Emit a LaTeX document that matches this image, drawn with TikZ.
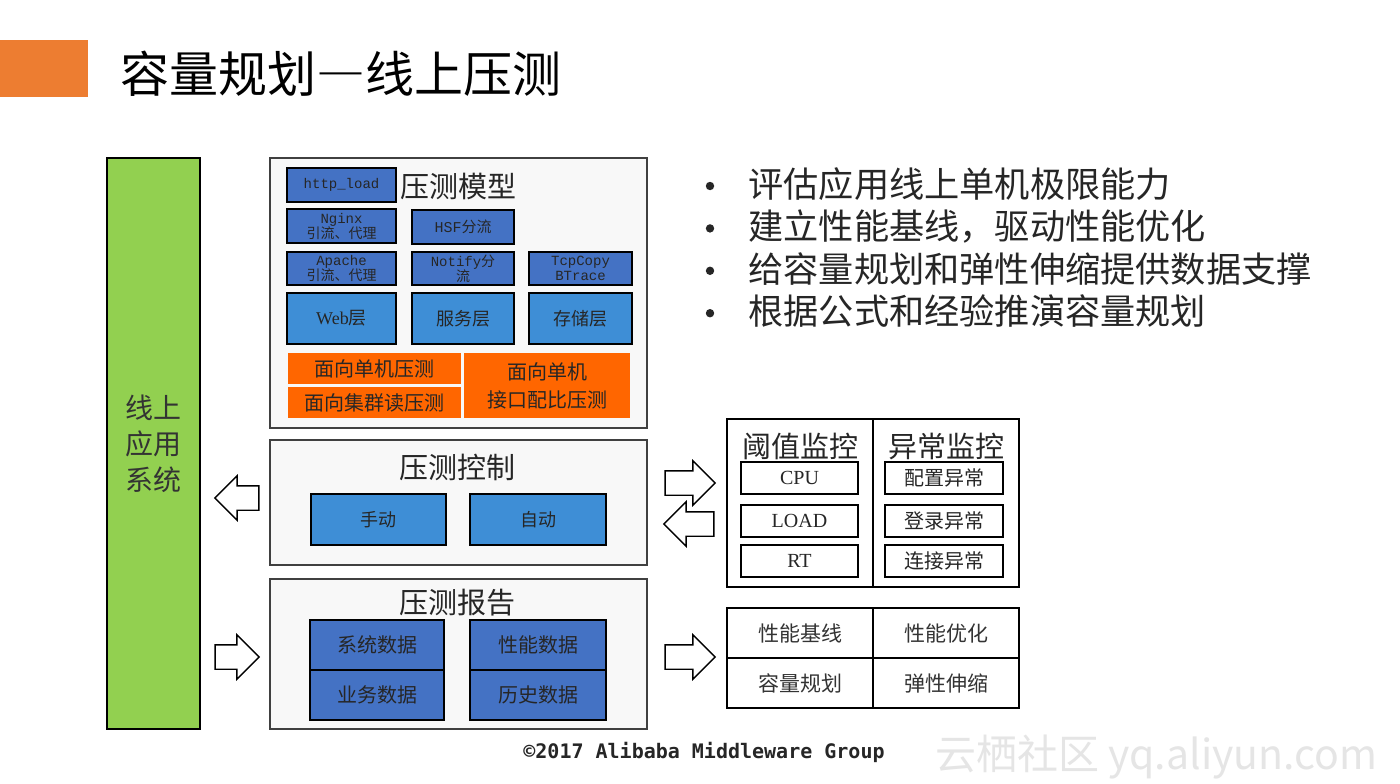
\documentclass[tikz,border=0pt]{standalone}
\usepackage{fontspec}
\setmainfont{Noto Sans CJK SC}
\newfontfamily\lserif{Liberation Serif}
\newfontfamily\lmono{Liberation Mono}
\newfontfamily\footmono{DejaVu Sans Mono}[BoldFont={DejaVu Sans Mono Bold}]
\usepackage{tikz}
\usetikzlibrary{shapes.arrows}
\definecolor{cpdark}{HTML}{4472C4}
\definecolor{cpmid}{HTML}{3E8ED6}
\definecolor{cporange}{HTML}{FF6600}
\definecolor{cptitle}{HTML}{ED7D31}
\definecolor{cpgreen}{HTML}{92D050}
\definecolor{cppanel}{HTML}{F8F8F8}
\newcommand{\fs}[2]{\fontsize{#1}{#2}\selectfont}

\begin{document}
\begin{tikzpicture}[
  x=0.5pt, y=-0.5pt,
  panel/.style={rectangle, draw=black!75, line width=0.7pt, fill=cppanel,
    inner sep=0pt},
  darkbox/.style={rectangle, draw=black, line width=1.3pt, fill=cpdark,
    align=center, inner sep=0pt, text=black!85},
  midbox/.style={rectangle, draw=black, line width=1.3pt, fill=cpmid,
    align=center, inner sep=0pt, text=black!85, font=\fs{9}{11}},
  orbox/.style={rectangle, fill=cporange, align=center, inner sep=0pt,
    font=\fs{10}{14}, text=black!85},
  wbox/.style={rectangle, draw=black, line width=1pt, fill=white,
    align=center, inner sep=0pt, font=\fs{10}{12}, text=black!85},
  cell/.style={rectangle, draw=black, line width=0.8pt, fill=white,
    minimum width=73pt, minimum height=25pt, inner sep=0pt,
    font=\fs{10.5}{12}, text=black!80},
  head/.style={font=\fs{14.5}{16}, text=black!85},
  blockarr/.style={single arrow, draw=black, line width=0.7pt, fill=white,
    inner sep=5.75pt, minimum height=22pt, single arrow head extend=5pt},
  bullet/.style={anchor=west, font=\fs{17.6}{20}, text=black!85, inner sep=0pt},
  dot/.style={circle, fill=black!85, minimum size=4.2pt, inner sep=0pt}
]
\useasboundingbox[fill=white] (0,0) rectangle (1400,783);

% title
\node[rectangle, fill=cptitle, minimum width=44pt, minimum height=28.5pt,
  inner sep=0pt] (tbar) at (44,68.5) {};
\node[anchor=west, font=\fs{24.5}{28}, inner sep=0pt] (title) at (120,74)
  {容量规划{\addfontfeature{RawFeature=+fwid}—}线上压测};

% online system
\node[rectangle, draw=black, line width=1pt, fill=cpgreen,
  minimum width=46.5pt, minimum height=285.5pt, inner sep=0pt,
  align=center, font=\fs{14}{18}, text=black!80] (sys) at (153.5,443.5)
  {线上\\应用\\系统};

% model panel
\node[panel, minimum width=188.5pt, minimum height=135pt] (model) at (458.5,293) {};
\node[head, font=\fs{14.5}{16}] (modellbl) at (458,186) {压测模型};
\node[darkbox, minimum width=54.5pt, minimum height=17pt, font=\lmono\fs{7}{8}]
  (httpl) at (341.5,185) {http\_load};
\node[darkbox, minimum width=54.5pt, minimum height=17pt, font=\fs{7}{7.5}]
  (nginx) at (341.5,226) {{\lmono Nginx}\\引流、代理};
\node[darkbox, minimum width=51pt, minimum height=17pt, font=\fs{7.5}{8}]
  (hsf) at (463,227) {{\lmono HSF}分流};
\node[darkbox, minimum width=54.5pt, minimum height=16.5pt, font=\fs{7}{7.5}]
  (apache) at (341.5,268.5) {{\lmono Apache}\\引流、代理};
\node[darkbox, minimum width=51pt, minimum height=16.5pt, font=\fs{7}{7.5}]
  (notify) at (463,268.5) {{\lmono Notify}分\\流};
\node[darkbox, minimum width=51.5pt, minimum height=16.5pt, font=\lmono\fs{7}{7.5}]
  (tcpc) at (580.5,268.5) {TcpCopy\\BTrace};
\node[midbox, minimum width=54.5pt, minimum height=25.5pt] (web) at (341.5,318.5)
  {{\lserif Web}层};
\node[midbox, minimum width=51pt, minimum height=25.5pt] (svc) at (463,318.5) {服务层};
\node[midbox, minimum width=51.5pt, minimum height=25.5pt] (store) at (580.5,318.5) {存储层};
\node[orbox, minimum width=86.5pt, minimum height=15.5pt] (single) at (374.5,368.5)
  {面向单机压测};
\node[orbox, minimum width=86.5pt, minimum height=15.5pt] (cluster) at (374.5,402.5)
  {面向集群读压测};
\node[orbox, minimum width=83pt, minimum height=32.5pt] (ratio) at (547,385.5)
  {面向单机\\接口配比压测};

% control panel
\node[panel, minimum width=188.5pt, minimum height=62.5pt] (ctrl) at (458.5,502.5) {};
\node[head] (ctrllbl) at (457,467) {压测控制};
\node[midbox, minimum width=67.5pt, minimum height=25.5pt] (manual) at (378.5,519.5) {手动};
\node[midbox, minimum width=68pt, minimum height=25.5pt] (auto) at (538,519.5) {自动};

% report panel
\node[panel, minimum width=188.5pt, minimum height=75pt] (report) at (458.5,654) {};
\node[head] (replbl) at (457,603) {压测报告};
\node[darkbox, minimum width=67pt, minimum height=25pt, font=\fs{10}{12}]
  (sysdata) at (377,645) {系统数据};
\node[darkbox, minimum width=67pt, minimum height=25pt, font=\fs{10}{12}]
  (bizdata) at (377,695) {业务数据};
\node[darkbox, minimum width=68pt, minimum height=25pt, font=\fs{10}{12}]
  (perfdata) at (538,645) {性能数据};
\node[darkbox, minimum width=68pt, minimum height=25pt, font=\fs{10}{12}]
  (histdata) at (538,695) {历史数据};

% monitor panel
\node[rectangle, draw=black, line width=1pt, fill=white,
  minimum width=146pt, minimum height=84pt, inner sep=0pt] (mon) at (873,503) {};
\draw[line width=1pt] (mon.north) -- (mon.south);
\node[head] (thrlbl) at (800,446) {阈值监控};
\node[head] (exclbl) at (946,446) {异常监控};
\node[wbox, minimum width=58.5pt, minimum height=16pt, font=\lserif\fs{10}{12}]
  (cpu) at (799.5,478) {CPU};
\node[wbox, minimum width=58.5pt, minimum height=16pt, font=\lserif\fs{10}{12}]
  (load) at (799.5,520.5) {LOAD};
\node[wbox, minimum width=58.5pt, minimum height=16pt, font=\lserif\fs{10}{12}]
  (rt) at (799.5,561) {RT};
\node[wbox, minimum width=59pt, minimum height=16pt] (cfgexc) at (944,478) {配置异常};
\node[wbox, minimum width=59pt, minimum height=16pt] (logexc) at (944,520.5) {登录异常};
\node[wbox, minimum width=59pt, minimum height=16pt] (conexc) at (944,561) {连接异常};

% results
\node[cell] (baseline) at (800,633) {性能基线};
\node[cell] (optim) at (946,633) {性能优化};
\node[cell] (capplan) at (800,683) {容量规划};
\node[cell] (elastic) at (946,683) {弹性伸缩};

% block arrows
\node[blockarr, shape border rotate=180] (toSys) at (243,498) {};
\node[blockarr] (fromSys) at (231,657) {};
\node[blockarr, minimum height=25pt] (toMon) at (684,483) {};
\node[blockarr, minimum height=25pt, shape border rotate=180] (fromMon) at (695,524) {};
\node[blockarr, minimum height=25pt] (toRes) at (684,657) {};

% bullets
\foreach \txt [count=\i] in {评估应用线上单机极限能力, 建立性能基线，驱动性能优化,
    给容量规划和弹性伸缩提供数据支撑, 根据公式和经验推演容量规划} {
  \node[dot] (dot\i) at (710,{186+42.4*(\i-1)}) {};
  \node[bullet] (pt\i) at (748,{184+42.4*(\i-1)}) {\txt};
}

% footer
\node[font=\footmono\bfseries\fs{10}{12}, text=black!85] (foot) at (704,752)
  {©2017 Alibaba Middleware Group};
\node[anchor=west, font=\fs{20.5}{22}, text=black!10] (mark) at (928,757)
  {云栖社区 yq.aliyun.com};
\end{tikzpicture}
\end{document}
